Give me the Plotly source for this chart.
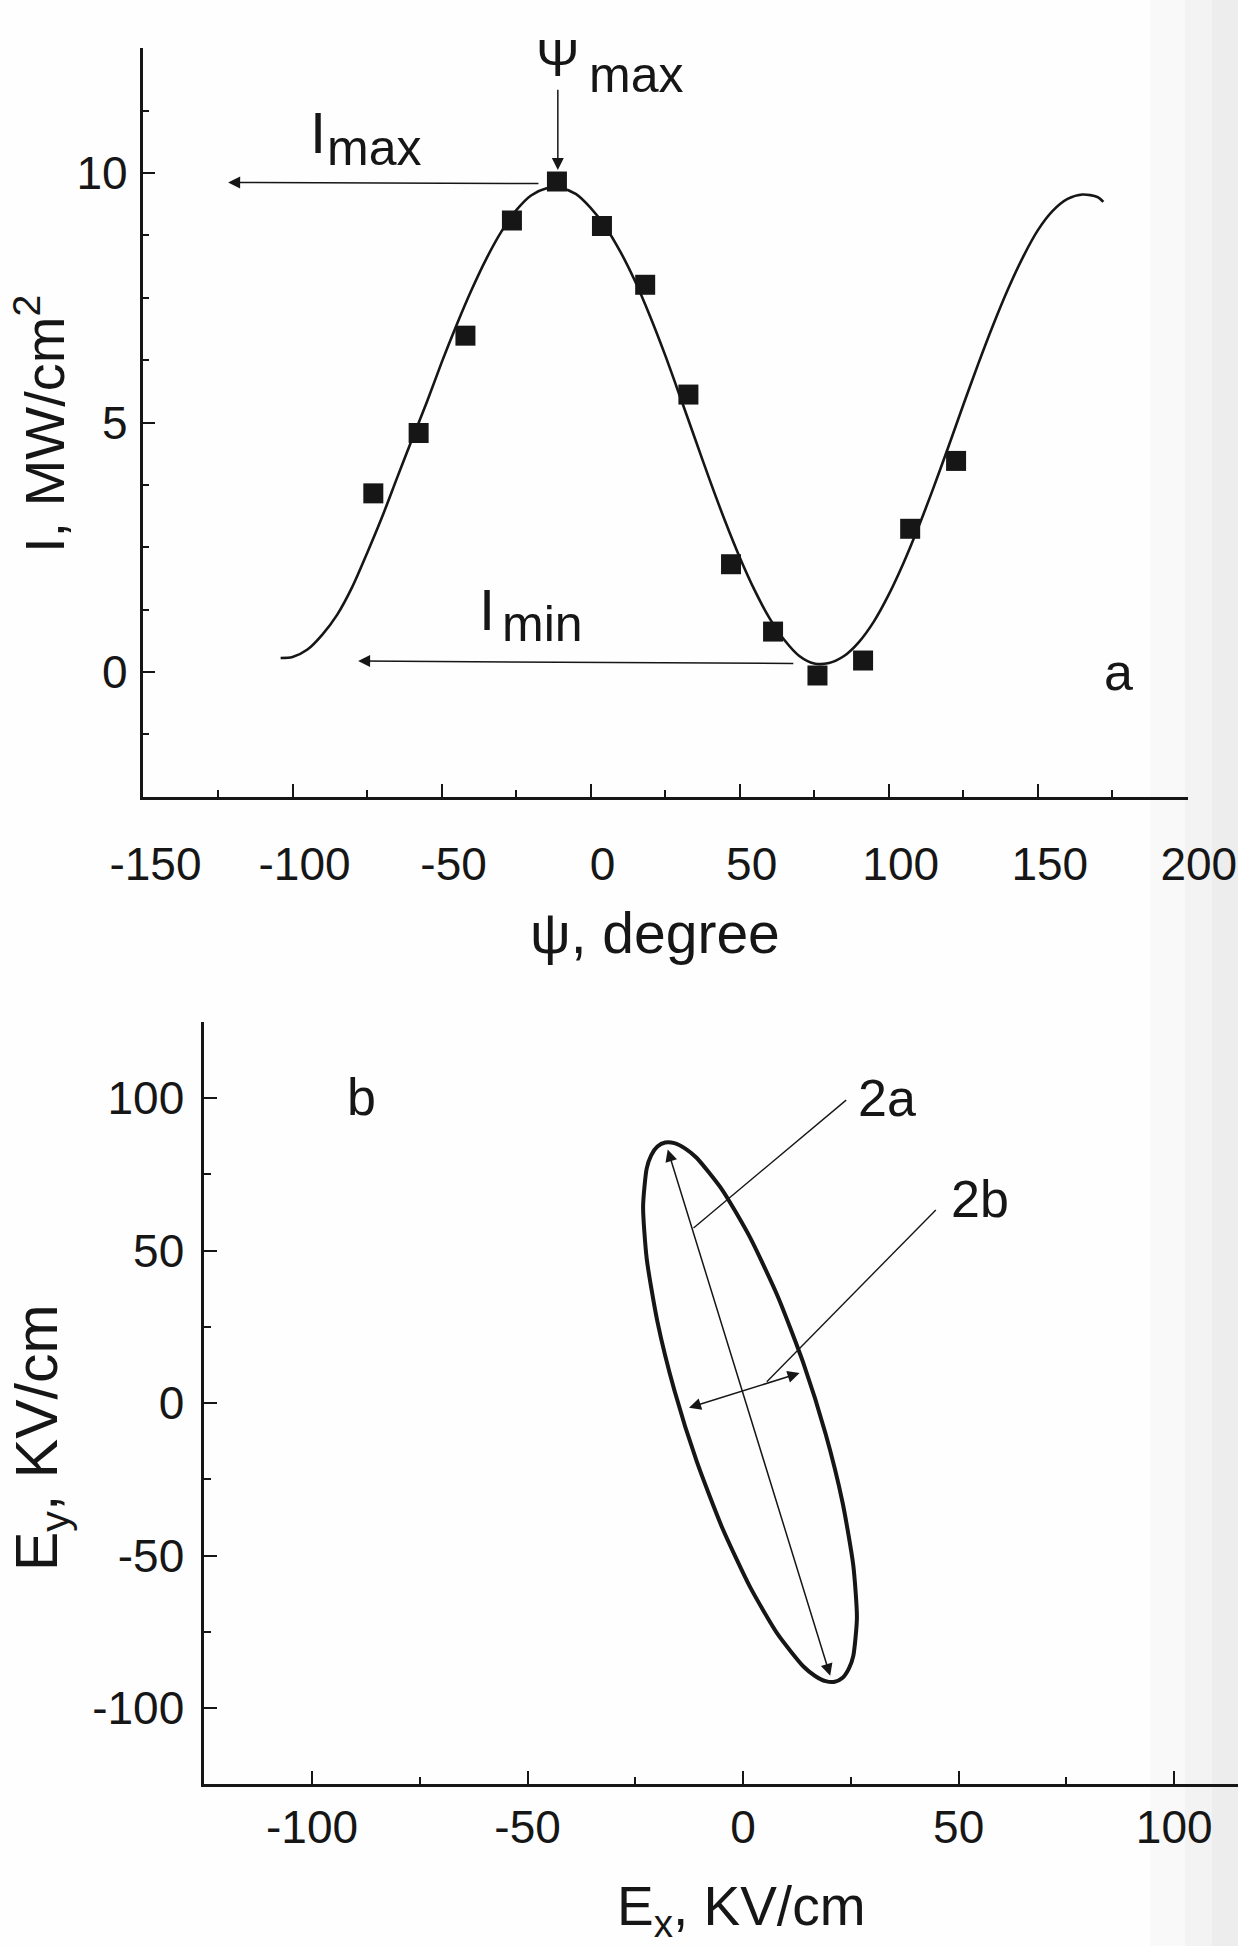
import plotly.graph_objects as go

# ---------------- data: panel a ----------------
psi_meas = [-72.9, -57.7, -42.0, -26.4, -11.3, 3.8, 18.3, 32.8, 47.1, 61.2, 76.1, 91.4, 107.2, 122.6]
I_meas = [3.58, 4.79, 6.74, 9.05, 9.83, 8.94, 7.76, 5.56, 2.16, 0.81, -0.07, 0.23, 2.87, 4.23]

psi_fit = [-104, -100, -95, -90, -85, -80, -75, -70, -65, -60, -55, -50, -45, -40, -35, -30,
           -25, -20, -15, -10, -5, 0, 5, 10, 15, 20, 25, 30, 35, 40, 45, 50, 55, 60, 65, 70,
           75, 80, 85, 90, 95, 100, 105, 110, 115, 120, 125, 130, 135, 140, 145, 150, 155,
           160, 165, 170, 172]
I_fit = [0.28, 0.30, 0.45, 0.75, 1.15, 1.70, 2.38, 3.10, 3.88, 4.65, 5.40, 6.20, 6.95, 7.65,
         8.28, 8.82, 9.25, 9.55, 9.69, 9.70, 9.58, 9.30, 8.92, 8.42, 7.82, 7.12, 6.35, 5.52,
         4.68, 3.84, 3.04, 2.30, 1.64, 1.08, 0.64, 0.32, 0.17, 0.18, 0.32, 0.60, 1.01, 1.55,
         2.19, 2.91, 3.69, 4.51, 5.35, 6.17, 6.95, 7.67, 8.31, 8.85, 9.24, 9.48, 9.57, 9.52, 9.42]

# ---------------- data: panel b (ellipse outline) ----------------
Ex_ell = [26.4, 25.56, 23.08, 19.13, 14.0, 8.02, 1.6, -4.82, -10.8, -13.5, -15.93, -18.07,
          -19.88, -21.3, -22.36, -23.2, -22.36, -19.88, -15.93, -10.8, -4.82, 1.6, 8.02, 14.0,
          16.7, 19.13, 21.27, 23.08, 24.5, 25.56, 26.4]
Ey_ell = [-70.4, -53.3, -32.7, -10.1, 13.0, 35.0, 54.3, 69.8, 80.4, 83.5, 85.2, 85.4,
          84.1, 81.3, 76.9, 64.4, 47.3, 26.7, 4.1, -19.0, -41.0, -60.3, -75.8, -86.4,
          -89.5, -91.2, -91.4, -90.1, -87.2, -82.9, -70.4]

# ---------------- tick labels ----------------
xa_tickvals = [-150, -100, -50, 0, 50, 100, 150, 200]
xa_ticktext = ["-150", "-100", "-50", "0", "50", "100", "150", "200"]
ya_tickvals = [0, 5, 10]
ya_ticktext = ["0", "5", "10"]
xb_tickvals = [-100, -50, 0, 50, 100]
xb_ticktext = ["-100", "-50", "0", "50", "100"]
yb_tickvals = [-100, -50, 0, 50, 100]
yb_ticktext = ["-100", "-50", "0", "50", "100"]

W, H = 1238, 1946
FONT = "Liberation Sans, Arial, Helvetica, sans-serif"
INK = "#161616"


def px(p):
    return p / W


def py(p):
    return 1 - p / H


fig = go.Figure()

# panel a
fig.add_trace(go.Scatter(x=psi_fit, y=I_fit, mode="lines",
                         line=dict(color=INK, width=2.6, shape="spline", smoothing=0.8),
                         xaxis="x", yaxis="y", hoverinfo="skip"))
fig.add_trace(go.Scatter(x=psi_meas, y=I_meas, mode="markers",
                         marker=dict(symbol="square", size=20, color=INK, line=dict(width=0)),
                         xaxis="x", yaxis="y", hoverinfo="skip"))
# panel b
fig.add_trace(go.Scatter(x=Ex_ell, y=Ey_ell, mode="lines",
                         line=dict(color=INK, width=4.0, shape="spline", smoothing=0.6),
                         xaxis="x2", yaxis="y2", hoverinfo="skip"))

common = dict(showline=True, linecolor=INK, linewidth=2.6, ticks="inside", ticklen=13,
              tickwidth=2, tickcolor=INK, showgrid=False, zeroline=False, automargin=False,
              ticklabeloverflow="allow",
              tickfont=dict(family=FONT, size=46, color=INK),
              minor=dict(ticks="inside", ticklen=7, tickwidth=2, tickcolor=INK, showgrid=False))

fig.update_layout(
    width=W, height=H, margin=dict(l=0, r=0, t=0, b=0),
    paper_bgcolor="#fefefe", plot_bgcolor="rgba(0,0,0,0)", showlegend=False,
    hovermode=False,
    xaxis=dict(common, range=[-150.3, 200.3], domain=[px(142.6), px(1187.7)], anchor="y",
               tickmode="array", tickvals=xa_tickvals, ticktext=xa_ticktext,
               minor=dict(common["minor"], tickmode="linear", tick0=-125, dtick=50),
               ticklabelshift=12, ticklabelstandoff=25),
    yaxis=dict(common, range=[-2.5, 12.5], domain=[py(796.75), py(48.25)], anchor="x",
               tickmode="array", tickvals=ya_tickvals, ticktext=ya_ticktext,
               minor=dict(common["minor"], tickmode="linear", tick0=0, dtick=1.25),
               ticklabelstandoff=3),
    xaxis2=dict(common, range=[-125, 114.8], domain=[px(204.25), 1.0], anchor="y2",
                tickmode="array", tickvals=xb_tickvals, ticktext=xb_ticktext,
                minor=dict(common["minor"], tickmode="linear", tick0=-75, dtick=50),
                ticklabelstandoff=1),
    yaxis2=dict(common, range=[-125, 125], domain=[py(1784.25), py(1021.75)], anchor="x2",
                tickmode="array", tickvals=yb_tickvals, ticktext=yb_ticktext,
                minor=dict(common["minor"], tickmode="linear", tick0=-75, dtick=50),
                ticklabelstandoff=8),
)

# faint scanner streak band at the right edge
shapes = [
    dict(type="rect", xref="paper", yref="paper", x0=px(1150), x1=px(1185), y0=0, y1=1,
         fillcolor="#f9f9f9", line=dict(width=0), layer="below"),
    dict(type="rect", xref="paper", yref="paper", x0=px(1185), x1=px(1212), y0=0, y1=1,
         fillcolor="#f3f3f3", line=dict(width=0), layer="below"),
    dict(type="rect", xref="paper", yref="paper", x0=px(1212), x1=1, y0=0, y1=1,
         fillcolor="#ededed", line=dict(width=0), layer="below"),
    # leader lines for 2a / 2b
    dict(type="line", xref="x2", yref="y2", x0=23.9, y0=99.3, x1=-11.5, y1=57.4,
         line=dict(color=INK, width=1.4)),
    dict(type="line", xref="x2", yref="y2", x0=44.7, y0=63.3, x1=5.5, y1=7.0,
         line=dict(color=INK, width=1.4)),
]
fig.update_layout(shapes=shapes)

ann = []


def txt(x, y, s, size, xref="x", yref="y", angle=0, xanchor="center"):
    ann.append(dict(x=x, y=y, xref=xref, yref=yref, text=s, showarrow=False,
                    font=dict(family=FONT, size=size, color=INK), textangle=angle,
                    xanchor=xanchor, yanchor="middle"))


def arrow(x_head, y_head, x_tail, y_tail, xref="x", yref="y", both=False):
    d = dict(x=x_head, y=y_head, ax=x_tail, ay=y_tail, xref=xref, yref=yref,
             axref=xref, ayref=yref, text="", showarrow=True, arrowhead=2,
             arrowsize=1.6, arrowwidth=1.5, arrowcolor=INK, standoff=0, startstandoff=0)
    if both:
        d.update(arrowside="end+start", startarrowhead=2, startarrowsize=1.6)
    ann.append(d)


# panel a arrows
arrow(-121.6, 9.81, -17.0, 9.79)          # I_max
arrow(-78.0, 0.22, 68.5, 0.17)            # I_min
arrow(-11.0, 10.06, -11.0, 11.7)          # Psi_max
# panel a labels
txt(-11.0, 12.3, "\u03a8", 52)
txt(15.2, 11.96, "max", 50)
txt(-91.6, 10.81, "I", 58)
txt(-72.7, 10.51, "max", 50)
txt(-34.7, 1.25, "I", 58)
txt(-16.3, 0.96, "min", 50)
txt(177.0, 0.0, "a", 52)

# panel b arrows (double headed)
arrow(20.2, -89.4, -17.6, 83.6, "x2", "y2", both=True)
arrow(13.1, 9.8, -12.9, -1.7, "x2", "y2", both=True)
txt(-88.6, 100.3, "b", 52, "x2", "y2")
txt(33.4, 100.0, "2a", 52, "x2", "y2")
txt(55.0, 66.9, "2b", 52, "x2", "y2")

# axis titles
txt(px(40), py(424), "I, MW/cm<sup>2</sup>", 56, "paper", "paper", angle=-90)
txt(px(655), py(933), "\u03c8, degree", 57, "paper", "paper")
txt(px(41), py(1438), "E<sub>y</sub>, KV/cm", 59, "paper", "paper", angle=-90)
txt(px(741), py(1910), "E<sub>x</sub>, KV/cm", 55, "paper", "paper")

fig.update_layout(annotations=ann)

fig.write_html("out.html")
